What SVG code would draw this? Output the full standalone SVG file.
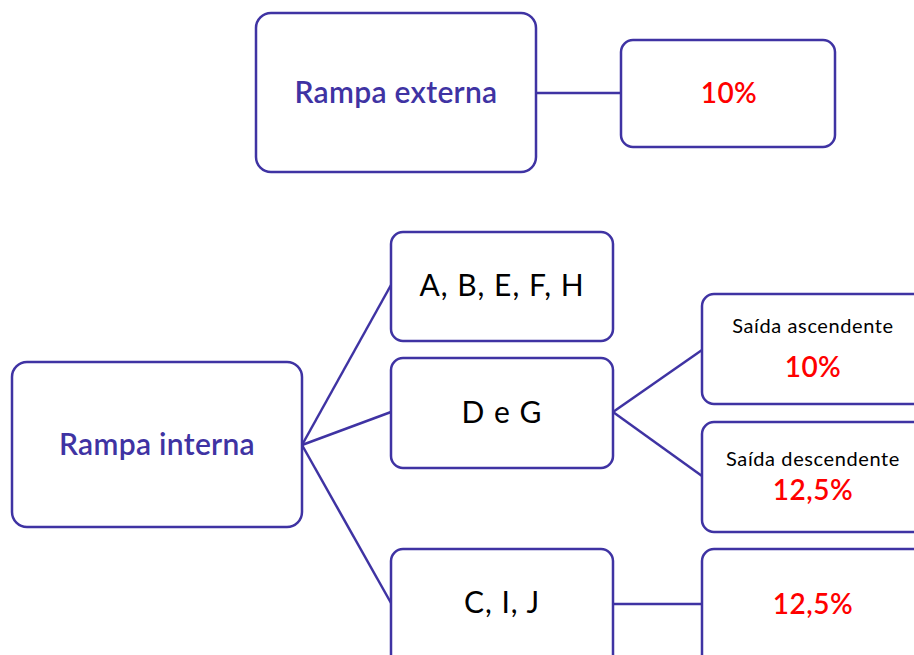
<svg xmlns="http://www.w3.org/2000/svg" width="914" height="655" viewBox="0 0 914 655">
<style>
.box{fill:#fff;stroke:#3f33a3;stroke-width:2.5}
.con{stroke:#3f33a3;stroke-width:2.5;fill:none}
.t{font-family:Lato,"Liberation Sans",sans-serif;text-anchor:middle}
.main{fill:#3f33a3;font-size:30px;font-weight:600;letter-spacing:0.3px}
.blk{fill:#000;font-size:30px;letter-spacing:1px}
.red{fill:#ff0000;font-size:28px;font-weight:600;letter-spacing:0.5px}
.sm{fill:#000;font-size:20px;letter-spacing:0.6px}
</style>
<rect width="914" height="655" fill="#fff"/>
<g id="connectors">
<line class="con" x1="536" y1="93" x2="621" y2="93"/>
<line class="con" x1="302" y1="445" x2="391" y2="285"/>
<line class="con" x1="302" y1="445" x2="391" y2="412"/>
<line class="con" x1="302" y1="445" x2="391" y2="603"/>
<line class="con" x1="613" y1="412" x2="702" y2="350"/>
<line class="con" x1="613" y1="412" x2="702" y2="476"/>
<line class="con" x1="613" y1="604" x2="702" y2="604"/>
</g>
<g id="rampa-externa">
<rect class="box" x="256" y="13" width="280" height="159" rx="15"/>
<text class="t main" x="396" y="103">Rampa externa</text>
</g>
<g id="externa-10">
<rect class="box" x="621" y="40" width="214" height="107" rx="12"/>
<text class="t red" x="729" y="103">10%</text>
</g>
<g id="rampa-interna">
<rect class="box" x="12" y="362" width="290" height="165" rx="15"/>
<text class="t main" x="157" y="455">Rampa interna</text>
</g>
<g id="abefh">
<rect class="box" x="391" y="232" width="222" height="109" rx="12"/>
<text class="t blk" x="502" y="296">A, B, E, F, H</text>
</g>
<g id="deg">
<rect class="box" x="391" y="358" width="222" height="110" rx="12"/>
<text class="t blk" x="502" y="423">D e G</text>
</g>
<g id="cij">
<rect class="box" x="391" y="549" width="222" height="120" rx="12"/>
<text class="t blk" x="502" y="613">C, I, J</text>
</g>
<g id="ascendente">
<rect class="box" x="702" y="294" width="230" height="110" rx="12"/>
<text class="t sm" x="813" y="333">Saída ascendente</text>
<text class="t red" x="813" y="377">10%</text>
</g>
<g id="descendente">
<rect class="box" x="702" y="422" width="230" height="110" rx="12"/>
<text class="t sm" x="813" y="466">Saída descendente</text>
<text class="t red" x="813" y="500">12,5%</text>
</g>
<g id="cij-125">
<rect class="box" x="702" y="549" width="230" height="120" rx="12"/>
<text class="t red" x="813" y="614">12,5%</text>
</g>
</svg>
